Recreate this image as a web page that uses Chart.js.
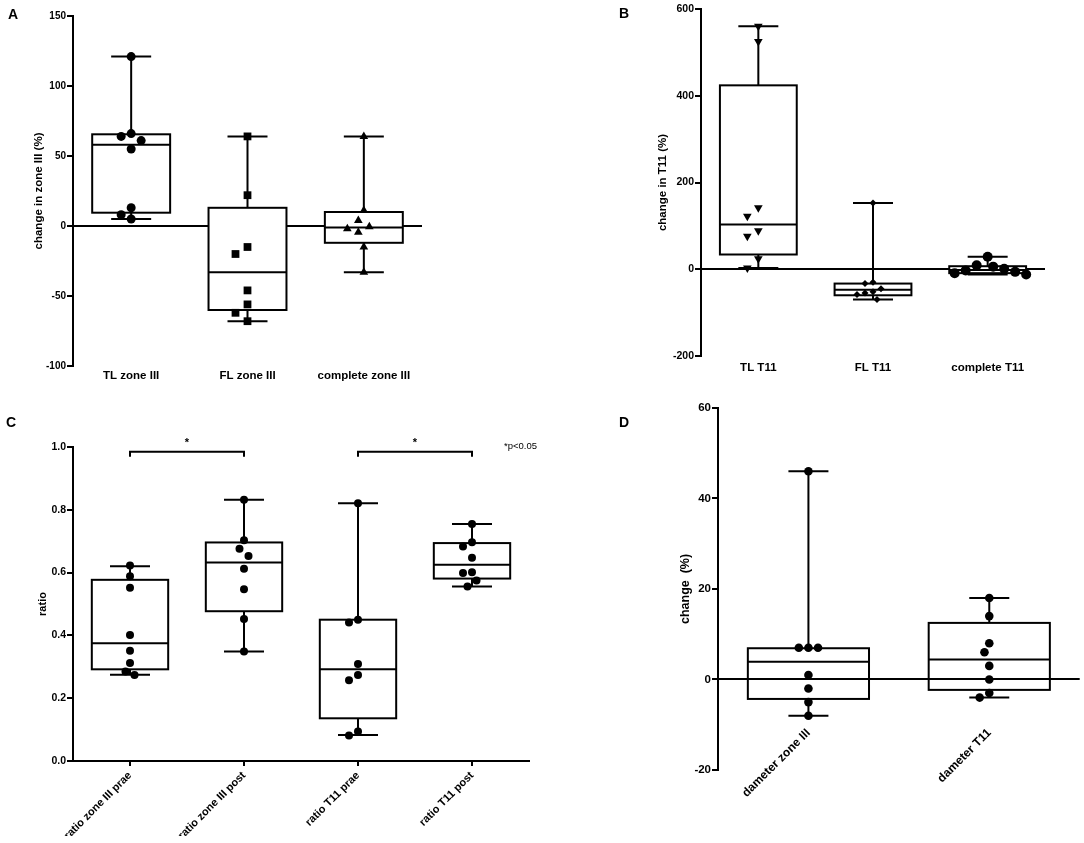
<!DOCTYPE html>
<html>
<head>
<meta charset="utf-8">
<script src="https://cdn.jsdelivr.net/npm/chart.js@4.4.0/dist/chart.umd.min.js"></script>
<style>
  html, body { margin: 0; padding: 0; background: #fff; }
  #page { position: relative; width: 1084px; height: 843px; overflow: hidden; font-family: 'Liberation Sans', Arial, sans-serif; }
  canvas { position: absolute; }
  .panel { position: absolute; font-weight: bold; font-size: 14px; line-height: 14px; }
  .note { position: absolute; font-size: 9.5px; line-height: 10px; }
</style>
</head>
<body>
<div id="page">
  <canvas id="chartA" width="440" height="400" style="left:0;top:0"></canvas>
  <canvas id="chartB" width="524" height="400" style="left:560px;top:0"></canvas>
  <canvas id="chartC" width="560" height="443" style="left:0;top:400px"></canvas>
  <canvas id="chartD" width="504" height="443" style="left:580px;top:400px"></canvas>
  <div class="panel" style="left:8px;top:7px">A</div>
  <div class="panel" style="left:619px;top:6px">B</div>
  <div class="panel" style="left:6px;top:415px">C</div>
  <div class="panel" style="left:619px;top:415px">D</div>
  <div class="note" style="left:504px;top:441px">*p&lt;0.05</div>
</div>
<script>
// Panel A - change in zone III
const catsA = ['TL zone III', 'FL zone III', 'complete zone III'];
const pointsA = [
  [121, 66, 64, 61, 55, 13, 8, 5],
  [64, 22, -15, -20, -46, -56, -62, -68],
  [64, 11, 4, -0.5, -2, -4.5, -15, -33]
];
const minA = [5, -68, -33];
const q1A = [9.5, -60, -12];
const medA = [58, -33, -1];
const q3A = [65.5, 13, 10];
const maxA = [121, 64, 64];

// Panel B - change in T11
const catsB = ['TL T11', 'FL T11', 'complete T11'];
const pointsB = [
  [560, 525, 142, 122, 89, 76, 24, 3],
  [153, -30, -33, -45, -52, -55, -58, -70],
  [29, 9, 6, 1, -3, -6, -9, -12]
];
const minB = [3, -70, -12];
const q1B = [34, -60, -9];
const medB = [103, -47, -2];
const q3B = [424, -33, 7];
const maxB = [560, 153, 29];

// Panel C - ratios
const catsC = ['ratio zone III prae', 'ratio zone III post', 'ratio T11 prae', 'ratio T11 post'];
const pointsC = [
  [0.623, 0.588, 0.552, 0.401, 0.351, 0.312, 0.285, 0.274],
  [0.832, 0.703, 0.676, 0.653, 0.612, 0.547, 0.452, 0.349],
  [0.821, 0.450, 0.441, 0.309, 0.274, 0.257, 0.094, 0.081],
  [0.755, 0.697, 0.683, 0.647, 0.601, 0.599, 0.575, 0.556]
];
const minC = [0.275, 0.349, 0.083, 0.556];
const q1C = [0.292, 0.477, 0.136, 0.581];
const medC = [0.375, 0.632, 0.292, 0.625];
const q3C = [0.577, 0.696, 0.450, 0.694];
const maxC = [0.620, 0.832, 0.821, 0.755];
const sigPairsC = [[0, 1], [2, 3]];

// Panel D - diameter change
const catsD = ['dameter zone III', 'dameter T11'];
const pointsD = [
  [46, 7, 7, 7, 1, -2, -5, -8],
  [18, 14, 8, 6, 3, 0, -3, -4]
];
const minD = [-8, -4];
const q1D = [-4.3, -2.3];
const medD = [3.9, 4.4];
const q3D = [6.9, 12.5];
const maxD = [46, 18];

Chart.defaults.font.family = "'Liberation Sans', Arial, sans-serif";
Chart.defaults.font.weight = 'bold';
Chart.defaults.color = '#000';

/**
 * Boxes, medians and whiskers drawn through the chart scales
 */
function boxPlugin(cfg) {
  return {
    id: 'boxes',
    beforeDatasetsDraw(chart) {
      const { ctx } = chart;
      const x = chart.scales.x, y = chart.scales.y;
      ctx.save();
      ctx.strokeStyle = '#000';
      ctx.lineWidth = 2;
      cfg.cats.forEach((c, i) => {
        const cx = x.getPixelForValue(i);
        const left = x.getPixelForValue(i - 0.335);
        const right = x.getPixelForValue(i + 0.335);
        const yMin = y.getPixelForValue(cfg.min[i]);
        const yQ1 = y.getPixelForValue(cfg.q1[i]);
        const yMed = y.getPixelForValue(cfg.med[i]);
        const yQ3 = y.getPixelForValue(cfg.q3[i]);
        const yMax = y.getPixelForValue(cfg.max[i]);
        ctx.beginPath();
        ctx.moveTo(cx, yMax); ctx.lineTo(cx, yQ3);
        ctx.moveTo(cx, yQ1); ctx.lineTo(cx, yMin);
        ctx.moveTo(cx - 20, yMax); ctx.lineTo(cx + 20, yMax);
        ctx.moveTo(cx - 20, yMin); ctx.lineTo(cx + 20, yMin);
        ctx.stroke();
        if (cfg.fill) {
          ctx.fillStyle = cfg.fill;
          ctx.fillRect(left, yQ3, right - left, yQ1 - yQ3);
        }
        ctx.strokeRect(left, yQ3, right - left, yQ1 - yQ3);
        ctx.beginPath();
        ctx.moveTo(left, yMed); ctx.lineTo(right, yMed);
        ctx.stroke();
      });
      ctx.restore();
    }
  };
}

/**
 * Significance brackets for panel C
 */
function sigPlugin(pairs) {
  return {
    id: 'sig',
    afterDraw(chart) {
      const { ctx } = chart;
      const x = chart.scales.x, y = chart.scales.y;
      const yb = y.getPixelForValue(0.985);
      ctx.save();
      ctx.strokeStyle = '#000';
      ctx.lineWidth = 2;
      ctx.fillStyle = '#000';
      ctx.font = "bold 11px 'Liberation Sans', Arial, sans-serif";
      ctx.textAlign = 'center';
      ctx.textBaseline = 'middle';
      pairs.forEach(([a, b]) => {
        const xa = x.getPixelForValue(a), xb = x.getPixelForValue(b);
        ctx.beginPath();
        ctx.moveTo(xa, yb + 5); ctx.lineTo(xa, yb); ctx.lineTo(xb, yb); ctx.lineTo(xb, yb + 5);
        ctx.stroke();
        ctx.fillText('*', (xa + xb) / 2, y.getPixelForValue(1.012));
      });
      ctx.restore();
    }
  };
}

/**
 * Spread overlapping points sideways (simple beeswarm)
 */
function spreadPoints(chart, groups, radius) {
  const xs = chart.scales.x, ys = chart.scales.y;
  const pxPerCat = xs.getPixelForValue(1) - xs.getPixelForValue(0);
  groups.forEach((vals, i) => {
    const diam = radius[i] * 2 + 1;
    const placed = [];
    chart.data.datasets[i].data = vals.map(v => {
      const py = ys.getPixelForValue(v);
      let dx = 0;
      for (let k = 0; k < 40; k++) {
        const cand = k === 0 ? 0 : (k % 2 ? -1 : 1) * Math.ceil(k / 2) * diam / 2;
        if (placed.every(p => Math.hypot(p.x - cand, p.y - py) >= diam)) { dx = cand; break; }
      }
      placed.push({ x: dx, y: py });
      return { x: i + dx / pxPerCat, y: v };
    });
  });
  chart.update('none');
}

function makeBoxChart(cfg) {
  const ctx = document.getElementById(cfg.id);
  if (!ctx) return;
  const n = cfg.cats.length;
  const datasets = cfg.points.map((vals, i) => ({
    data: vals.map(v => ({ x: i, y: v })),
    pointStyle: cfg.marker[i],
    pointRadius: cfg.radius[i],
    pointHoverRadius: cfg.radius[i],
    pointRotation: cfg.markerRotation ? cfg.markerRotation[i] : 0,
    backgroundColor: '#000',
    borderColor: '#000',
    borderWidth: 0
  }));

  const chart = new Chart(ctx, {
    type: 'scatter',
    data: { datasets },
    options: {
      responsive: false,
      animation: false,
      layout: { padding: cfg.padding },
      plugins: { legend: { display: false }, tooltip: { enabled: false } },
      scales: {
        x: {
          type: 'linear',
          min: -0.5,
          max: n - 0.5,
          position: cfg.xPosition || 'bottom',
          afterBuildTicks: s => { s.ticks = cfg.cats.map((c, i) => ({ value: i })); },
          afterFit: s => { s.height = cfg.xHeight; },
          ticks: {
            callback: v => (cfg.cats[v] !== undefined ? cfg.cats[v] : ''),
            font: { size: cfg.labelSize },
            padding: cfg.xPad,
            minRotation: cfg.rotation,
            maxRotation: cfg.rotation,
            autoSkip: false
          },
          grid: { display: !!cfg.xAxisLine, drawOnChartArea: false, color: '#000', lineWidth: 2, tickLength: 5 },
          border: { display: !!cfg.xAxisLine, color: '#000', width: 2 }
        },
        y: {
          min: cfg.yMin,
          max: cfg.yMax,
          afterFit: s => { s.width = cfg.yWidth; },
          ticks: {
            stepSize: cfg.yStep,
            padding: 1,
            font: { size: cfg.tickSize },
            callback: cfg.yFormat || (v => v)
          },
          grid: {
            drawOnChartArea: !!cfg.zeroLine,
            color: c => (cfg.zeroLine && c.tick && c.tick.value === 0 ? '#000' : 'rgba(0,0,0,0)'),
            tickColor: '#000',
            lineWidth: 2,
            tickLength: 6
          },
          border: { color: '#000', width: 2 },
          title: {
            display: true,
            text: cfg.yTitle,
            font: { size: cfg.titleSize },
            padding: { top: 4, bottom: 0 }
          }
        }
      }
    },
    plugins: [boxPlugin(cfg)].concat(cfg.extra || [])
  });

  spreadPoints(chart, cfg.points, cfg.radius);
  return chart;
}

document.addEventListener('DOMContentLoaded', function() {
  makeBoxChart({
    id: 'chartA', cats: catsA, points: pointsA,
    min: minA, q1: q1A, med: medA, q3: q3A, max: maxA,
    marker: ['circle', 'rect', 'triangle'], radius: [4.5, 5.5, 5],
    yMin: -100, yMax: 150, yStep: 50, yTitle: 'change in zone III (%)',
    padding: { left: 28, top: 16, right: 18, bottom: 10 }, yWidth: 45, xHeight: 24, xPad: -2,
    rotation: 0, tickSize: 10, titleSize: 11.5, labelSize: 11.5,
    zeroLine: true, fill: '#fff'
  });

  makeBoxChart({
    id: 'chartB', cats: catsB, points: pointsB,
    min: minB, q1: q1B, med: medB, q3: q3B, max: maxB,
    marker: ['triangle', 'rectRot', 'circle'], markerRotation: [180, 0, 0], radius: [5, 3.5, 5],
    yMin: -200, yMax: 600, yStep: 200, yTitle: 'change in T11 (%)',
    padding: { left: 92, top: 9, right: 39, bottom: 20 }, yWidth: 49, xHeight: 24, xPad: 0,
    rotation: 0, tickSize: 10.5, titleSize: 11.5, labelSize: 11.5,
    zeroLine: true, fill: '#fff'
  });

  makeBoxChart({
    id: 'chartC', cats: catsC, points: pointsC,
    min: minC, q1: q1C, med: medC, q3: q3C, max: maxC,
    marker: ['circle', 'circle', 'circle', 'circle'], radius: [4, 4, 4, 4],
    yMin: 0, yMax: 1, yStep: 0.2, yTitle: 'ratio', yFormat: v => v.toFixed(1),
    padding: { left: 32, top: 47, right: 31, bottom: 7 }, yWidth: 41, xHeight: 75, xPad: 3,
    rotation: 45, tickSize: 10.5, titleSize: 11, labelSize: 11,
    xAxisLine: true, zeroLine: false, fill: '#fff',
    extra: [sigPlugin(sigPairsC)]
  });

  makeBoxChart({
    id: 'chartD', cats: catsD, points: pointsD,
    min: minD, q1: q1D, med: medD, q3: q3D, max: maxD,
    marker: ['circle', 'circle'], radius: [4.3, 4.3],
    yMin: -20, yMax: 60, yStep: 20, yTitle: 'change  (%)',
    padding: { left: 94, top: 7, right: 4, bottom: 73 }, yWidth: 44, xHeight: 0, xPad: 3,
    xPosition: { y: -8.5 },
    rotation: 45, tickSize: 11.5, titleSize: 12.5, labelSize: 12,
    zeroLine: true, fill: null
  });
});
</script>
</body>
</html>
